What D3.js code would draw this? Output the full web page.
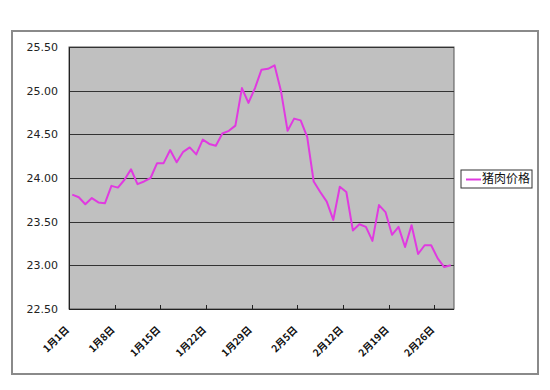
<!DOCTYPE html>
<html>
<head>
<meta charset="utf-8">
<script src="https://cdn.jsdelivr.net/npm/d3@7"></script>
<style>
  body { margin: 0; background: #fff; }
  svg { display: block; }
</style>
</head>
<body>
<div id="chart"></div>
<script>
// category labels: 1月1日 ... 2月28日 (one per day)
const monthDays = [[1, 31], [2, 28]];
const categories = [];
monthDays.forEach(([m, n]) => {
  for (let d = 1; d <= n; d++) categories.push(`${m}月${d}日`);
});

// 猪肉价格
const porkPrice = [
  23.81, 23.78, 23.70, 23.77, 23.72, 23.71, 23.91, 23.89, 23.98, 24.10,
  23.93, 23.96, 24.00, 24.17, 24.17, 24.32, 24.18, 24.30, 24.35, 24.27,
  24.44, 24.39, 24.37, 24.51, 24.54, 24.60, 25.03, 24.86, 25.03, 25.24,
  25.25, 25.29, 24.99, 24.54, 24.68, 24.66, 24.47, 23.96, 23.84, 23.73,
  23.52, 23.90, 23.84, 23.40, 23.47, 23.44, 23.28, 23.69, 23.61, 23.35,
  23.44, 23.21, 23.46, 23.13, 23.23, 23.23, 23.08, 22.98, 23.00
];

const yTicks = [22.5, 23.0, 23.5, 24.0, 24.5, 25.0, 25.5];
const labelEvery = 7;
const seriesName = "猪肉价格";

const width = 550, height = 390;
const plot = { left: 69, top: 47, right: 454, bottom: 309 };
const lineColor = "#e03ae0";

const svg = d3.select("#chart").append("svg")
  .attr("width", width)
  .attr("height", height);

// outer chart frame
svg.append("rect")
  .attr("x", 12).attr("y", 31)
  .attr("width", 526).attr("height", 343)
  .attr("fill", "#fff")
  .attr("stroke", "#8a8a8a")
  .attr("stroke-width", 2);

const x = d3.scaleBand()
  .domain(categories)
  .range([plot.left, plot.right])
  .paddingInner(0).paddingOuter(0);

const y = d3.scaleLinear()
  .domain([22.5, 25.5])
  .range([plot.bottom, plot.top]);

// plot area
svg.append("rect")
  .attr("x", plot.left).attr("y", plot.top)
  .attr("width", plot.right - plot.left)
  .attr("height", plot.bottom - plot.top)
  .attr("fill", "#c0c0c0")
  .attr("stroke", "#555")
  .attr("stroke-width", 1);

// gridlines
svg.append("g")
  .selectAll("line")
  .data(yTicks)
  .join("line")
  .attr("x1", plot.left).attr("x2", plot.right)
  .attr("y1", d => Math.round(y(d)) + 0.5)
  .attr("y2", d => Math.round(y(d)) + 0.5)
  .attr("stroke", "#333")
  .attr("stroke-width", 1);

// y axis
const yAxis = svg.append("g")
  .attr("transform", `translate(${plot.left},0)`)
  .call(d3.axisLeft(y).tickValues(yTicks).tickSize(0).tickPadding(11)
    .tickFormat(d => d3.format(".2f")(d)));
yAxis.select(".domain").attr("stroke", "#222");
yAxis.selectAll("text")
  .attr("font-family", "DejaVu Sans, sans-serif")
  .attr("font-size", 11)
  .attr("fill", "#222");

// x axis (ticks every 7 categories, at category boundaries, pointing inward)
const bw = x.bandwidth();
const tickCats = categories.filter((c, i) => i % labelEvery === 0 && i > 0);
svg.append("line")
  .attr("x1", plot.left).attr("x2", plot.right)
  .attr("y1", plot.bottom + 0.5).attr("y2", plot.bottom + 0.5)
  .attr("stroke", "#222");
svg.append("g")
  .selectAll("line")
  .data(tickCats)
  .join("line")
  .attr("x1", d => Math.round(x(d)) + 0.5)
  .attr("x2", d => Math.round(x(d)) + 0.5)
  .attr("y1", plot.bottom)
  .attr("y2", plot.bottom - 4)
  .attr("stroke", "#222");

const labelCats = categories.filter((c, i) => i % labelEvery === 0);
svg.append("g")
  .selectAll("text")
  .data(labelCats)
  .join("text")
  .attr("transform", d => `translate(${x(d) + bw / 2 - 5},${plot.bottom + 19}) rotate(-45)`)
  .attr("text-anchor", "end")
  .attr("dy", "0.35em")
  .attr("font-family", "Noto Sans CJK SC, sans-serif")
  .attr("font-size", 10)
  .attr("font-weight", "bold")
  .attr("fill", "#111")
  .text(d => d);

// series line
const line = d3.line()
  .x((d, i) => x(categories[i]) + bw / 2)
  .y(d => y(d));

svg.append("path")
  .datum(porkPrice)
  .attr("fill", "none")
  .attr("stroke", lineColor)
  .attr("stroke-width", 2)
  .attr("stroke-linejoin", "round")
  .attr("d", line);

// legend
const legend = svg.append("g").attr("transform", "translate(461,170)");
legend.append("rect")
  .attr("width", 71).attr("height", 18)
  .attr("fill", "#fff")
  .attr("stroke", "#333")
  .attr("stroke-width", 1);
legend.append("line")
  .attr("x1", 5).attr("x2", 20)
  .attr("y1", 9.5).attr("y2", 9.5)
  .attr("stroke", lineColor)
  .attr("stroke-width", 2);
legend.append("text")
  .attr("x", 21).attr("y", 9)
  .attr("dy", "0.35em")
  .attr("font-family", "Noto Sans CJK SC, sans-serif")
  .attr("font-size", 12)
  .attr("fill", "#111")
  .text(seriesName);
</script>
</body>
</html>
